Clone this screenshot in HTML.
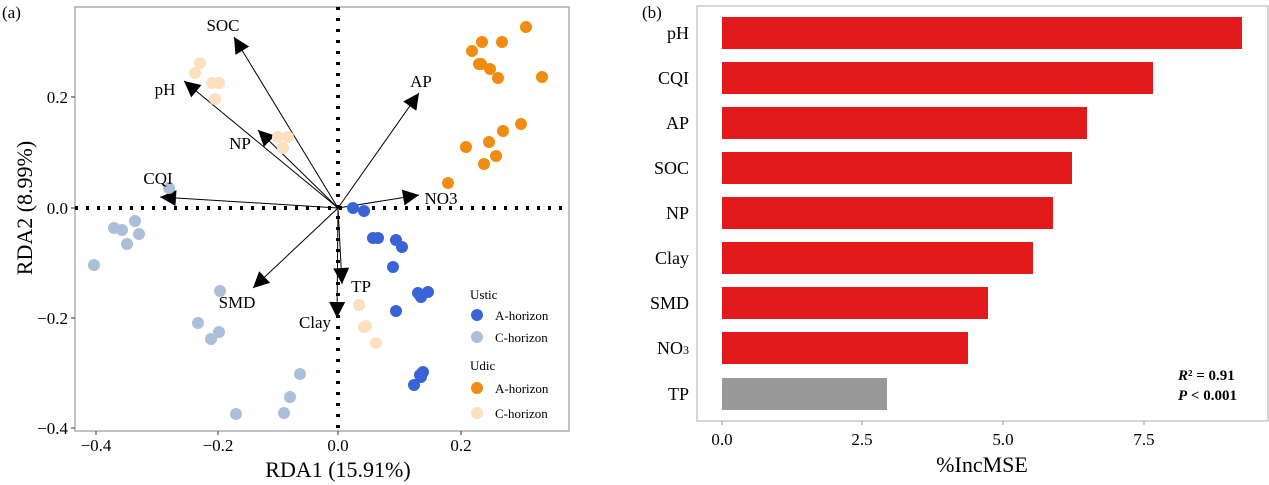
<!DOCTYPE html>
<html><head><meta charset="utf-8"><style>
body{margin:0;background:#fff}
svg{display:block;font-family:"Liberation Serif",serif}
</style></head><body>
<svg width="1269" height="485" viewBox="0 0 1269 485" xmlns="http://www.w3.org/2000/svg">
<defs>
<marker id="a" viewBox="0 0 10 10" refX="10" refY="5" markerWidth="18" markerHeight="16" orient="auto" markerUnits="userSpaceOnUse"><path d="M0,0 L10,5 L0,10z" fill="#000"/></marker></defs>
<text x="2" y="18" font-size="17">(a)</text>
<rect x="75" y="7" width="494" height="424" fill="none" stroke="#999" stroke-width="1.2"/>
<line x1="75" y1="208" x2="569" y2="208" stroke="#000" stroke-width="4" stroke-dasharray="3,8"/>
<line x1="338" y1="7" x2="338" y2="431" stroke="#000" stroke-width="4" stroke-dasharray="3,8"/>
<g stroke="#000" stroke-width="1" marker-end="url(#a)">
<line x1="338" y1="208" x2="234" y2="37"/>
<line x1="338" y1="208" x2="184" y2="81"/>
<line x1="338" y1="208" x2="258" y2="130"/>
<line x1="338" y1="208" x2="160" y2="197"/>
<line x1="338" y1="208" x2="253" y2="288"/>
<line x1="338" y1="208" x2="342" y2="284"/>
<line x1="338" y1="208" x2="337" y2="318"/>
<line x1="338" y1="208" x2="419" y2="93"/>
<line x1="338" y1="208" x2="419" y2="195"/>
</g>
<g fill="#aabfd9">
<circle cx="169" cy="188" r="6"/><circle cx="135" cy="221" r="6"/><circle cx="114" cy="228" r="6"/><circle cx="122" cy="230" r="6"/><circle cx="139" cy="234" r="6"/><circle cx="127" cy="244" r="6"/><circle cx="94" cy="265" r="6"/><circle cx="220" cy="291" r="6"/><circle cx="198" cy="323" r="6"/><circle cx="219" cy="332" r="6"/><circle cx="211" cy="339" r="6"/><circle cx="300" cy="374" r="6"/><circle cx="290" cy="397" r="6"/><circle cx="284" cy="413" r="6"/><circle cx="236" cy="414" r="6"/>
</g>
<g fill="#fde0c0">
<circle cx="200" cy="63" r="6"/><circle cx="195" cy="73" r="6"/><circle cx="212" cy="83" r="6"/><circle cx="219" cy="83" r="6"/><circle cx="215" cy="99" r="6"/><circle cx="278" cy="137" r="6"/><circle cx="288" cy="137" r="6"/><circle cx="283" cy="148" r="6"/><circle cx="359" cy="305" r="6"/><circle cx="366" cy="326" r="6"/><circle cx="364" cy="327" r="6"/><circle cx="376" cy="343" r="6"/>
</g>
<g fill="#f08c12">
<circle cx="526" cy="27" r="6"/><circle cx="472" cy="51" r="6"/><circle cx="482" cy="42" r="6"/><circle cx="502" cy="42" r="6"/><circle cx="479" cy="64" r="6"/><circle cx="481" cy="64" r="6"/><circle cx="490" cy="69" r="6"/><circle cx="498" cy="78" r="6"/><circle cx="542" cy="77" r="6"/><circle cx="521" cy="124" r="6"/><circle cx="503" cy="131" r="6"/><circle cx="489" cy="142" r="6"/><circle cx="466" cy="147" r="6"/><circle cx="496" cy="156" r="6"/><circle cx="484" cy="164" r="6"/><circle cx="448" cy="183" r="6"/>
</g>
<g fill="#3b63d8">
<circle cx="353" cy="208" r="6"/><circle cx="364" cy="211" r="6"/><circle cx="373" cy="238" r="6"/><circle cx="378" cy="238" r="6"/><circle cx="396" cy="240" r="6"/><circle cx="402" cy="247" r="6"/><circle cx="393" cy="267" r="6"/><circle cx="418" cy="293" r="6"/><circle cx="428" cy="292" r="6"/><circle cx="421" cy="297" r="6"/><circle cx="396" cy="311" r="6"/><circle cx="423" cy="372" r="6"/><circle cx="420" cy="375" r="6"/><circle cx="414" cy="385" r="6"/><circle cx="421" cy="377" r="6"/>
</g>
<g font-size="17" text-anchor="middle">
<text x="223" y="31">SOC</text><text x="165" y="95">pH</text><text x="240" y="149">NP</text><text x="158" y="184">CQI</text><text x="237" y="308">SMD</text><text x="361" y="292">TP</text><text x="315" y="328">Clay</text><text x="421" y="87">AP</text><text x="441" y="204">NO3</text>
</g>
<g font-size="13">
<text x="470" y="299">Ustic</text>
<circle cx="477" cy="315" r="6" fill="#3b63d8"/><text x="495" y="320">A-horizon</text>
<circle cx="477" cy="337" r="6" fill="#aabfd9"/><text x="495" y="342">C-horizon</text>
<text x="470" y="370">Udic</text>
<circle cx="477" cy="388" r="6" fill="#f08c12"/><text x="495" y="393">A-horizon</text>
<circle cx="477" cy="413" r="6" fill="#fde0c0"/><text x="495" y="418">C-horizon</text>
</g>
<g stroke="#333"><line x1="96" y1="431" x2="96" y2="435"/><line x1="218" y1="431" x2="218" y2="435"/><line x1="338" y1="431" x2="338" y2="435"/><line x1="461" y1="431" x2="461" y2="435"/>
<line x1="71" y1="97" x2="75" y2="97"/><line x1="71" y1="208" x2="75" y2="208"/><line x1="71" y1="318" x2="75" y2="318"/><line x1="71" y1="428" x2="75" y2="428"/></g>
<g font-size="17" text-anchor="middle"><text x="96" y="451">−0.4</text><text x="218" y="451">−0.2</text><text x="338" y="451">0.0</text><text x="461" y="451">0.2</text></g>
<g font-size="17" text-anchor="end"><text x="68" y="103">0.2</text><text x="68" y="214">0.0</text><text x="68" y="324">−0.2</text><text x="68" y="434">−0.4</text></g>
<text x="338" y="477" font-size="22" text-anchor="middle">RDA1 (15.91%)</text>
<text transform="translate(32,208) rotate(-90)" font-size="22" text-anchor="middle">RDA2 (8.99%)</text>

<text x="642" y="18" font-size="17">(b)</text>
<rect x="697" y="6" width="571" height="415" fill="none" stroke="#bbb" stroke-width="1.2"/>
<g fill="#e31a1c">
<rect x="722" y="17" width="520" height="32"/><rect x="722" y="62" width="431" height="32"/><rect x="722" y="107" width="365" height="32"/><rect x="722" y="152" width="350" height="32"/><rect x="722" y="197" width="331" height="32"/><rect x="722" y="242" width="311" height="32"/><rect x="722" y="287" width="266" height="32"/><rect x="722" y="332" width="246" height="32"/></g>
<rect x="722" y="378" width="165" height="32" fill="#999"/>
<g font-size="18" text-anchor="end">
<text x="689" y="39">pH</text><text x="689" y="84">CQI</text><text x="689" y="129">AP</text><text x="689" y="174">SOC</text><text x="689" y="219">NP</text><text x="689" y="264">Clay</text><text x="689" y="309">SMD</text><text x="689" y="354">NO<tspan font-size="12">3</tspan></text><text x="689" y="400">TP</text>
</g>
<g stroke="#999"><line x1="722" y1="421" x2="722" y2="425"/><line x1="862" y1="421" x2="862" y2="425"/><line x1="1003" y1="421" x2="1003" y2="425"/><line x1="1144" y1="421" x2="1144" y2="425"/></g>
<g font-size="17" text-anchor="middle"><text x="722" y="445">0.0</text><text x="862" y="445">2.5</text><text x="1003" y="445">5.0</text><text x="1144" y="445">7.5</text></g>
<text x="982" y="472" font-size="22" text-anchor="middle">%IncMSE</text>
<g font-size="15" font-weight="bold"><text x="1178" y="380"><tspan font-style="italic">R</tspan>² = 0.91</text><text x="1178" y="400"><tspan font-style="italic">P</tspan> &lt; 0.001</text></g>
</svg>
</body></html>
